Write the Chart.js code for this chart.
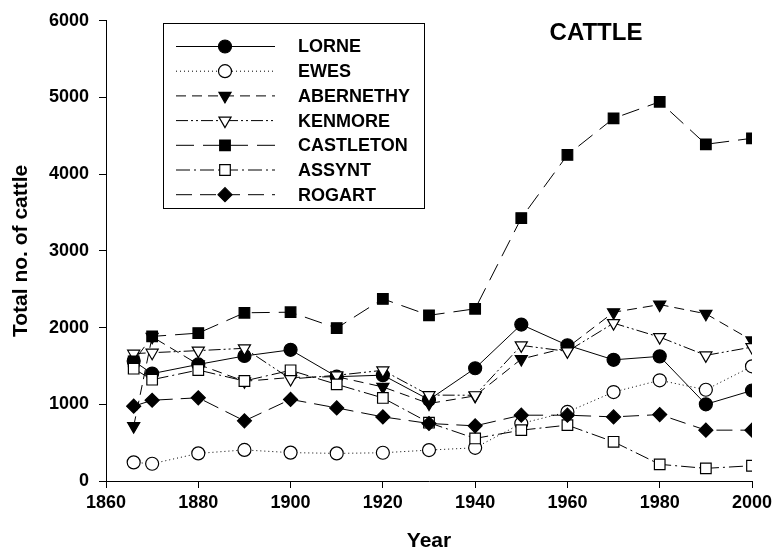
<!DOCTYPE html>
<html>
<head>
<meta charset="utf-8">
<script src="https://cdn.jsdelivr.net/npm/chart.js@4/dist/chart.umd.min.js"></script>
<style>
  html, body { margin: 0; padding: 0; background: #fff; }
  #wrap { width: 774px; height: 559px; }
</style>
</head>
<body>
<div id="wrap"><canvas id="cattleChart" width="774" height="559"></canvas></div>
<script>
// census years
const years = [1866, 1870, 1880, 1890, 1900, 1910, 1920, 1930, 1940, 1950, 1960, 1970, 1980, 1990, 2000];

// cattle totals per parish
const lorne     = [1564, 1400, 1520, 1630, 1710, 1360, 1380, 1060, 1470, 2040, 1770, 1580, 1625, 1000, 1180];
const ewes      = [243, 225, 360, 405, 370, 360, 368, 403, 433, 750, 900, 1160, 1313, 1190, 1495];
const abernethy = [715, 1880, 1520, 1300, 1350, 1360, 1226, 1010, 1110, 1590, 1740, 2200, 2300, 2180, 1833];
const kenmore   = [1660, 1673, 1700, 1730, 1330, 1378, 1443, 1120, 1118, 1768, 1690, 2058, 1876, 1638, 1746];
const castleton = [1560, 1885, 1928, 2193, 2201, 1993, 2375, 2160, 2245, 3428, 4251, 4728, 4944, 4390, 4468];
const assynt    = [1464, 1321, 1447, 1304, 1443, 1260, 1083, 760, 555, 663, 728, 511, 217, 165, 199];
const rogart    = [975, 1053, 1085, 784, 1064, 953, 836, 750, 719, 858, 858, 836, 866, 663, 663];

const seriesNames = ["LORNE", "EWES", "ABERNETHY", "KENMORE", "CASTLETON", "ASSYNT", "ROGART"];
const seriesValues = [lorne, ewes, abernethy, kenmore, castleton, assynt, rogart];

const xTicks = [1860, 1880, 1900, 1920, 1940, 1960, 1980, 2000];
const yTicks = [0, 1000, 2000, 3000, 4000, 5000, 6000];

// look of every series: dash pattern + marker
const styles = [
    { dash: [],                   point: "circle",   rot: 0,   r: 6.5, fill: "#000" },
    { dash: [1, 3],               point: "circle",   rot: 0,   r: 6.5, fill: "#fff" },
    { dash: [10, 6],              point: "triangle", rot: 180, r: 7,   fill: "#000" },
    { dash: [12, 3, 2, 3, 2, 3],  point: "triangle", rot: 180, r: 7,   fill: "#fff" },
    { dash: [18, 9],              point: "rect",     rot: 0,   r: 7.5, fill: "#000" },
    { dash: [14, 4, 2, 4],        point: "rect",     rot: 0,   r: 7.5, fill: "#fff" },
    { dash: [16, 8],              point: "rectRot",  rot: 0,   r: 7,   fill: "#000" }
];

const FONT = "'Liberation Sans', Arial, sans-serif";

const datasets = seriesNames.map((name, i) => ({
    label: name,
    data: years.map((yr, j) => ({ x: yr, y: seriesValues[i][j] })),
    borderColor: "#000",
    borderWidth: 1,
    borderDash: styles[i].dash,
    pointStyle: styles[i].point,
    pointRotation: styles[i].rot,
    pointRadius: styles[i].r,
    pointBackgroundColor: styles[i].fill,
    pointBorderColor: "#000",
    pointBorderWidth: 1.2,
    fill: false,
    tension: 0,
    order: seriesNames.length - i
}));

// legend box + title drawn by hand (line sample with marker in the middle)
const legendBox = {
    id: "legendBox",
    afterDraw(chart) {
        const ctx = chart.ctx;
        ctx.save();
        ctx.strokeStyle = "#000";
        ctx.lineWidth = 1;
        ctx.strokeRect(163.5, 23.5, 261, 185);

        seriesNames.forEach((name, i) => {
            const y = 46.5 + 24.7 * i;
            const st = styles[i];
            ctx.save();
            ctx.setLineDash(st.dash);
            ctx.beginPath();
            ctx.moveTo(176, y);
            ctx.lineTo(275, y);
            ctx.stroke();
            ctx.restore();

            ctx.save();
            ctx.fillStyle = st.fill;
            ctx.strokeStyle = "#000";
            ctx.lineWidth = 1.2;
            Chart.helpers.drawPoint(ctx, {
                pointStyle: st.point,
                rotation: st.rot,
                radius: st.r,
                borderWidth: 1.2
            }, 225, y);
            ctx.restore();

            ctx.fillStyle = "#000";
            ctx.font = "bold 18px " + FONT;
            ctx.textAlign = "left";
            ctx.textBaseline = "middle";
            ctx.fillText(name, 298, y + 1);
        });

        ctx.font = "bold 24px " + FONT;
        ctx.textAlign = "center";
        ctx.textBaseline = "middle";
        ctx.fillText("CATTLE", 596, 33);
        ctx.restore();
    }
};

const ctx = document.getElementById("cattleChart").getContext("2d");
new Chart(ctx, {
    type: "line",
    data: { datasets },
    options: {
        responsive: false,
        animation: false,
        devicePixelRatio: 1,
        layout: { padding: { top: 19, right: 22, bottom: 0, left: 0 } },
        plugins: {
            legend: { display: false },
            tooltip: { enabled: false }
        },
        scales: {
            x: {
                type: "linear",
                min: 1860,
                max: 2000,
                afterBuildTicks: (scale) => { scale.ticks = xTicks.map(v => ({ value: v })); },
                afterFit: (scale) => {
                    scale.height = 78;
                    scale.paddingRight = 0;
                },
                ticks: {
                    color: "#000",
                    font: { family: FONT, size: 18, weight: "bold" },
                    padding: 4,
                    maxRotation: 0,
                    callback: (v) => String(v)
                },
                grid: { drawOnChartArea: false, drawTicks: true, tickLength: 7, color: "#000" },
                border: { display: true, color: "#000", width: 1 },
                title: {
                    display: true,
                    text: "Year",
                    color: "#000",
                    font: { family: FONT, size: 21, weight: "bold" },
                    padding: { top: 5, bottom: 5 }
                }
            },
            y: {
                min: 0,
                max: 6000,
                afterBuildTicks: (scale) => { scale.ticks = yTicks.map(v => ({ value: v })); },
                afterFit: (scale) => { scale.width = 106; },
                ticks: {
                    color: "#000",
                    font: { family: FONT, size: 18, weight: "bold" },
                    padding: 10,
                    callback: (v) => String(v)
                },
                grid: { drawOnChartArea: false, drawTicks: true, tickLength: 7, color: "#000" },
                border: { display: true, color: "#000", width: 1 },
                title: {
                    display: true,
                    text: "Total no. of cattle",
                    color: "#000",
                    font: { family: FONT, size: 21, weight: "bold" },
                    padding: { top: 9, bottom: 9 }
                }
            }
        }
    },
    plugins: [legendBox]
});
</script>
</body>
</html>
